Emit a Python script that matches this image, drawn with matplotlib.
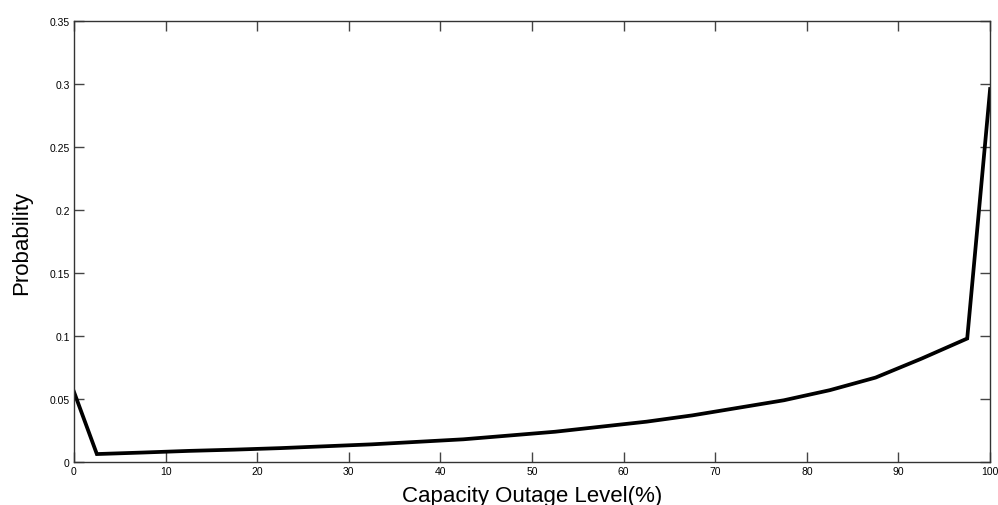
import matplotlib
matplotlib.use("Agg")
import matplotlib.pyplot as plt

# outage level (%) and its probability
outage = [0, 2.5, 7.5, 12.5, 17.5, 22.5, 27.5, 32.5, 37.5, 42.5, 47.5,
          52.5, 57.5, 62.5, 67.5, 72.5, 77.5, 82.5, 87.5, 92.5, 97.5, 100]
prob = [0.0557, 0.0063, 0.0075, 0.0088, 0.0098, 0.0110, 0.0125, 0.0140,
        0.0160, 0.0180, 0.0210, 0.0240, 0.0280, 0.0320, 0.0370, 0.0430,
        0.0490, 0.0570, 0.0670, 0.0820, 0.0980, 0.2960]

xticks = [0, 10, 20, 30, 40, 50, 60, 70, 80, 90, 100]
yticks = [0, 0.05, 0.1, 0.15, 0.2, 0.25, 0.3, 0.35]
ytick_labels = ["0", "0.05", "0.1", "0.15", "0.2", "0.25", "0.3", "0.35"]

plt.rcParams['font.family'] = ['Liberation Sans', 'DejaVu Sans']

fig = plt.figure(figsize=(9.98, 5.06), dpi=100)
ax = fig.add_axes([0.0741, 0.085, 0.918, 0.8715])

ax.plot(outage, prob, color='black', lw=2.7, solid_joinstyle='miter')

ax.set_xlim(0, 100)
ax.set_ylim(0, 0.35)
ax.set_xticks(xticks)
ax.set_xticklabels([str(t) for t in xticks])
ax.set_yticks(yticks)
ax.set_yticklabels(ytick_labels)
ax.tick_params(direction='in', length=7, width=1, top=True, right=True,
               labelsize=7.5, pad=3, color='#444444')

for s in ax.spines.values():
    s.set_color('#333333')
    s.set_linewidth(1)

ax.set_xlabel('Capacity Outage Level(%)', fontsize=16)
ax.xaxis.set_label_coords(0.5, -0.052)
ax.set_ylabel('Probability', fontsize=16, va='center')
ax.yaxis.set_label_coords(-0.057, 0.5)

fig.savefig('out.png', dpi=100)
